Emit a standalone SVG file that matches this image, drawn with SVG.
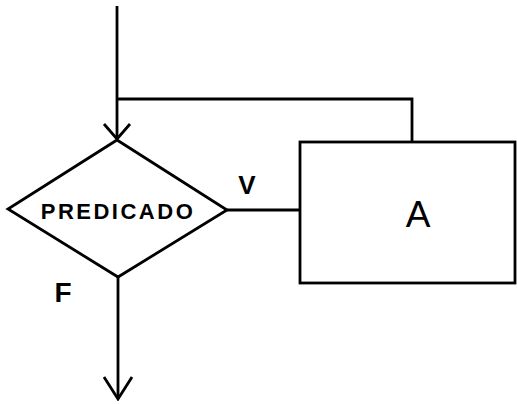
<svg xmlns="http://www.w3.org/2000/svg" width="517" height="404" viewBox="0 0 517 404">
<style>
.ln{fill:none;stroke:#000;stroke-width:2.8;stroke-linejoin:miter}
.tx{font-family:"Liberation Sans",Arial,sans-serif;fill:#000}
</style>
<defs>
<marker id="arr" markerWidth="20" markerHeight="30" viewBox="-18 -15 20 30" refX="0" refY="0" orient="auto" markerUnits="userSpaceOnUse">
<path d="M-15,-13 L0,0 L-15,13" fill="none" stroke="#000" stroke-width="2.8"/>
</marker>
<marker id="arr2" markerWidth="26" markerHeight="32" viewBox="-24 -16 26 32" refX="0" refY="0" orient="auto" markerUnits="userSpaceOnUse">
<path d="M-22,-14 L0,0 L-22,14" fill="none" stroke="#000" stroke-width="2.8"/>
</marker>
</defs>
<rect width="517" height="404" fill="#fff"/>
<g id="connectors">
<path class="ln" d="M117,6 L117,139" marker-end="url(#arr)"/>
<path class="ln" d="M117,99 L412,99 L412,142"/>
<path class="ln" d="M227,210 L300,210"/>
<path class="ln" d="M118,277 L118,399" marker-end="url(#arr2)"/>
</g>
<g id="predicado">
<path class="ln" d="M117,140 L227,210 L118,277 L8,209 Z"/>
<text class="tx" x="118" y="219" font-size="22" font-weight="bold" text-anchor="middle" letter-spacing="2.5">PREDICADO</text>
</g>
<g id="a">
<rect class="ln" x="300" y="142" width="215" height="141"/>
<text class="tx" x="418" y="227" font-size="37" text-anchor="middle">A</text>
</g>
<g id="labels">
<text class="tx" x="247" y="194" font-size="26" font-weight="bold" text-anchor="middle">V</text>
<text class="tx" x="63" y="302" font-size="28" font-weight="bold" text-anchor="middle">F</text>
</g>
</svg>
